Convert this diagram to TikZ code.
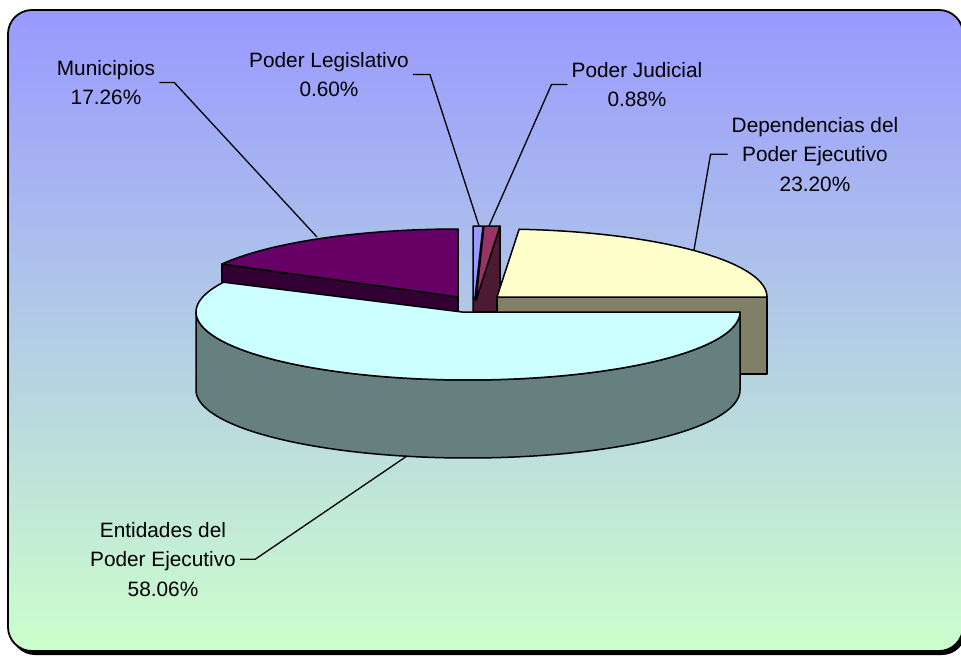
\documentclass[tikz,border=0pt]{standalone}
\usepackage{fontspec}
\setmainfont{Liberation Sans}
\definecolor{bgtop}{RGB}{153,153,255}
\definecolor{bgbot}{RGB}{204,255,204}
\definecolor{enttop}{RGB}{204,255,255}
\definecolor{entside}{RGB}{102,128,128}
\definecolor{deptop}{RGB}{255,255,204}
\definecolor{depside}{RGB}{128,128,102}
\definecolor{muntop}{RGB}{102,0,102}
\definecolor{munside}{RGB}{51,0,51}
\definecolor{judtop}{RGB}{153,51,102}
\definecolor{judside}{RGB}{77,26,51}
\definecolor{legtop}{RGB}{153,153,255}
\begin{document}
\begin{tikzpicture}[x=1pt,y=-1pt,
  slice/.style={draw=black, line width=1.5pt, line join=round},
  leader/.style={draw=black, line width=1.3pt},
  lab/.style={align=center, inner xsep=4pt, inner ysep=0pt, text=black,
    font={\fontsize{20.8}{29.5}\selectfont}}]
\useasboundingbox (0,0) rectangle (961,656);
% background panel
\fill[black, rounded corners=24pt] (11,13) rectangle (966,655);
\shade[top color=bgtop, bottom color=bgbot, rounded corners=24pt] (8,10) rectangle (963,651);
\draw[line width=1.8pt, rounded corners=24pt] (8,10) rectangle (963,651);
% Municipios
\filldraw[slice, fill=munside] (458,297) -- ({458+270*cos(151)},{297-68*sin(151)})
  -- ({458+270*cos(151)},{374-68*sin(151)}) -- (458,374) -- cycle;
\filldraw[slice, fill=muntop] (458,297) -- plot[domain=90:151, samples=40]
  ({458+270*cos(\x)},{297-68*sin(\x)}) -- cycle;
% Poder Judicial side, Legislativo and Judicial tops
\filldraw[slice, fill=judside] (500,226) -- (500,312) -- (473,312) -- (473,298) -- (476,300) -- cycle;
\filldraw[slice, fill=legtop] (473,226) -- (483,226) -- (475,298) -- (473,298) -- cycle;
\filldraw[slice, fill=judtop] (484,226) -- (500,226) -- (476,300) -- cycle;
% Dependencias
\filldraw[slice, fill=depside] (497,297) rectangle (767,374);
\filldraw[slice, fill=deptop] (497,297) -- plot[domain=0:85.3, samples=60]
  ({497+270*cos(\x)},{297-68*sin(\x)}) -- cycle;
% Entidades
\filldraw[slice, fill=entside] plot[domain=0:-180, samples=90]
  ({468+272*cos(\x)},{312-68*sin(\x)}) -- plot[domain=-180:0, samples=90]
  ({468+272*cos(\x)},{390-68*sin(\x)}) -- cycle;
\filldraw[slice, fill=enttop] (462,312) -- (740,312) -- plot[domain=0:-206, samples=100]
  ({468+272*cos(\x)},{312-68*sin(\x)}) -- cycle;
% leader end points
\coordinate (munpt) at (317,237);
\coordinate (legpt) at (479,226);
\coordinate (judpt) at (489,226);
\coordinate (deppt) at (694,250);
\coordinate (entpt) at (407,456);
% labels
\node[lab, anchor=north] (munlab) at (106,60) {Municipios\\17.26\%};
\node[lab, anchor=north] (leglab) at (329,52) {Poder Legislativo\\0.60\%};
\node[lab, anchor=north] (judlab) at (637,62) {Poder Judicial\\0.88\%};
\node[lab, anchor=north] (deplab) at (815,117) {Dependencias del\\Poder Ejecutivo\\23.20\%};
\node[lab, anchor=north] (entlab) at (163,522) {Entidades del\\Poder Ejecutivo\\58.06\%};
% leaders
\draw[leader] (munlab.east) -- ++(15,0) -- (munpt);
\draw[leader] (leglab.east) -- ++(17,0) -- (legpt);
\draw[leader] (judlab.west) -- ++(-16,0) -- (judpt);
\draw[leader] (deplab.west) -- ++(-17,0) -- (deppt);
\draw[leader] (entlab.east) -- ++(15,0) -- (entpt);
\end{tikzpicture}
\end{document}
